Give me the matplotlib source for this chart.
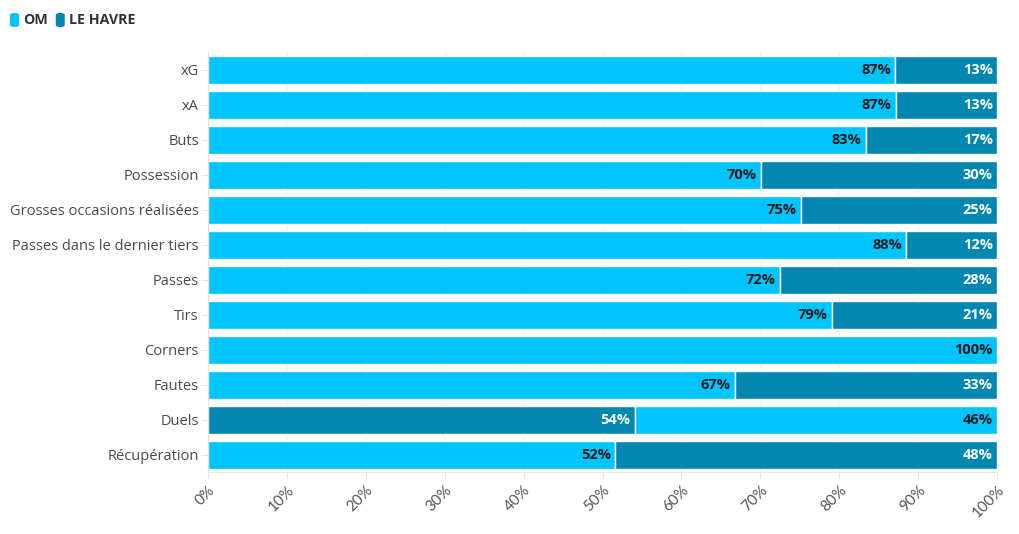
import matplotlib
matplotlib.use("Agg")
import matplotlib.pyplot as plt
from matplotlib.patches import FancyBboxPatch

categories = ["xG", "xA", "Buts", "Possession", "Grosses occasions réalisées",
              "Passes dans le dernier tiers", "Passes", "Tirs", "Corners",
              "Fautes", "Duels", "Récupération"]
first_vals = [87.1, 87.2, 83.4, 70.1, 75.2, 88.5, 72.5, 79.1, 100.0, 66.8, 54.1, 51.6]
first_is_om = [True, True, True, True, True, True, True, True, True, True, False, True]
xticks = list(range(0, 101, 10))
series = ["OM", "LE HAVRE"]

C_OM = "#00c4fc"
C_LH = "#0287b1"

fig = plt.figure(figsize=(10.2, 5.34), dpi=100)
ax = fig.add_axes([208/1020, 1-472/534, (997-208)/1020, 420/534])

n = len(categories)
ys = list(range(n))
for y, v, om in zip(ys, first_vals, first_is_om):
    c1 = C_OM if om else C_LH
    c2 = C_LH if om else C_OM
    ax.barh(y, v, left=0, height=0.8, color=c1, edgecolor="white", linewidth=1.0)
    rest = 100 - v
    if rest > 0:
        ax.barh(y, rest, left=v, height=0.8, color=c2, edgecolor="white", linewidth=1.0)
    t1 = "#1a1a1a" if om else "white"
    t2 = "white" if om else "#1a1a1a"
    ax.text(v - 0.55, y, f"{round(v)}%", ha="right", va="center", fontsize=10.5,
            fontweight="bold", color=t1, family="Open Sans")
    if rest > 0:
        ax.text(99.45, y, f"{round(rest)}%", ha="right", va="center", fontsize=10.5,
                fontweight="bold", color=t2, family="Open Sans")

ax.set_xlim(0, 100)
ax.set_ylim(n - 0.5, -0.5)
ax.set_yticks(ys)
ax.set_yticklabels(categories, fontsize=10.5, color="#4a4a4a", family="Open Sans")
ax.set_xticks(xticks)
ax.set_xticklabels([f"{t}%" for t in xticks], rotation=45, fontsize=11,
                   color="#555555", family="Lato", ha="center", va="top")
for lab in ax.get_xticklabels():
    lab.set_rotation_mode("anchor")
    lab.set_ha("right")
ax.tick_params(axis="y", length=5, color="#e6e6e6", pad=1.5)
ax.tick_params(axis="x", length=5, color="#e6e6e6", pad=3)
ax.grid(axis="x", color="#f0f0f0", linewidth=0.8)
ax.set_axisbelow(True)
for s in ["top", "right"]:
    ax.spines[s].set_visible(False)
ax.spines["left"].set_color("#e0e0e0")
ax.spines["bottom"].set_color("#e6e6e6")

# legend
xpos = 10
for name, col in zip(series, [C_OM, C_LH]):
    p = FancyBboxPatch((xpos/1020, 1-27/534), 9/1020, 14/534,
                       boxstyle="round,pad=0,rounding_size=0.004",
                       transform=fig.transFigure, facecolor=col, edgecolor="none")
    fig.patches.append(p)
    t = fig.text((xpos + 13)/1020, 1-20.5/534, name, fontsize=10.3, fontweight="bold",
                 color="#333333", va="center", ha="left", family="Open Sans")
    fig.canvas.draw()
    bb = t.get_window_extent()
    xpos = bb.x1 + 8

fig.savefig("out.png", dpi=100)
